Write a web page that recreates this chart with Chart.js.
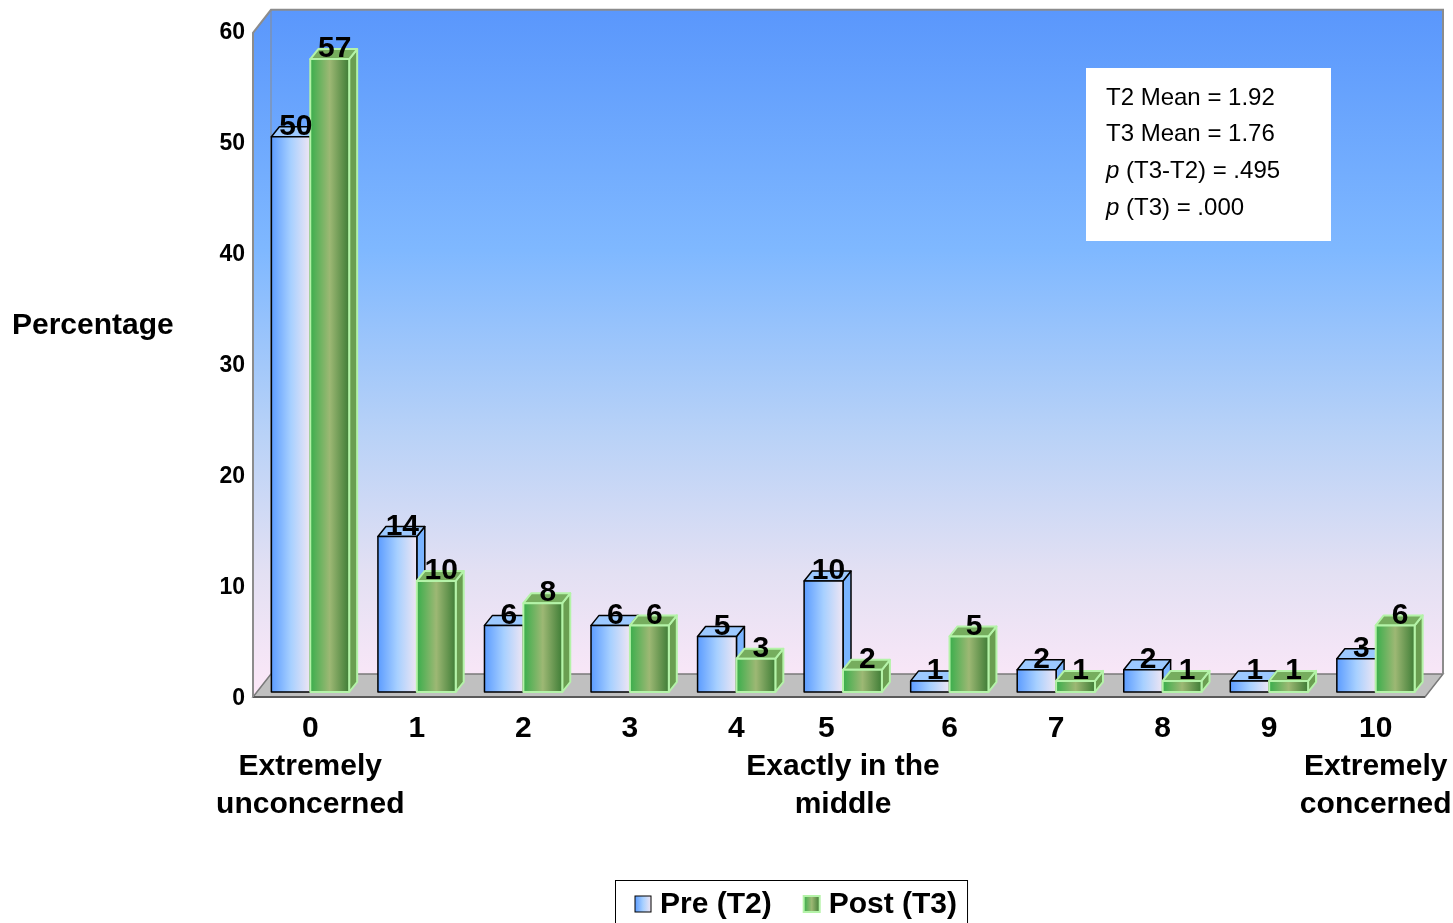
<!DOCTYPE html>
<html>
<head>
<meta charset="utf-8">
<script src="https://cdn.jsdelivr.net/npm/chart.js@4.4.1/dist/chart.umd.min.js"></script>
<style>
  html, body { margin: 0; padding: 0; background: #fff; }
  #wrap { width: 1453px; height: 923px; position: relative; }
</style>
</head>
<body>
<div id="wrap"><canvas id="myChart"></canvas></div>
<script>
// Category tick labels (score 0-10 with anchor descriptions)
const labels = [
    ['0', 'Extremely', 'unconcerned'], ['1'], ['2'], ['3'], ['4'],
    ['5    ', 'Exactly in the', 'middle'], ['6'], ['7'], ['8'], ['9'],
    ['10', 'Extremely', 'concerned']
];

// Percentages per score
const preT2 = [50, 14, 6, 6, 5, 10, 1, 2, 2, 1, 3];
const postT3 = [57, 10, 8, 6, 3, 2, 5, 1, 1, 1, 6];

const seriesNames = ['Pre (T2)', 'Post (T3)'];
const yTicks = [0, 10, 20, 30, 40, 50, 60];

// Stats box text: [italic prefix, rest]
const statLines = [
    ['', 'T2 Mean = 1.92'],
    ['', 'T3 Mean = 1.76'],
    ['p', ' (T3-T2) = .495'],
    ['p', ' (T3) = .000']
];

const FONT = "'Liberation Sans', Arial, sans-serif";
const wallDepth = { dx: 18, dy: -23 };
const barDepth = { dx: 8, dy: -10 };

const barStyles = [
    { front: ['#5c9cff', '#a7d0ff', '#efe5f3'], top: '#9cc9ff', side: '#7ab4ff', edge: '#000000', edgeWidth: 1.5 },
    { front: ['#3aae4c', '#9db874', '#3f7d36'], top: '#76ad5e', side: '#6a9e51', edge: '#b4f3a8', edgeWidth: 2 }
];

function poly(ctx, pts) {
    ctx.beginPath();
    ctx.moveTo(pts[0][0], pts[0][1]);
    for (let i = 1; i < pts.length; i++) ctx.lineTo(pts[i][0], pts[i][1]);
    ctx.closePath();
}

function frontGradient(ctx, x0, x1, stops) {
    const g = ctx.createLinearGradient(x0, 0, x1, 0);
    g.addColorStop(0, stops[0]);
    g.addColorStop(0.5, stops[1]);
    g.addColorStop(1, stops[2]);
    return g;
}

function drawBar(ctx, x0, x1, top, base, st) {
    const dx = barDepth.dx, dy = barDepth.dy;
    ctx.lineWidth = st.edgeWidth;
    ctx.strokeStyle = st.edge;
    ctx.lineJoin = 'round';
    // right side
    poly(ctx, [[x1, top], [x1 + dx, top + dy], [x1 + dx, base + dy], [x1, base]]);
    ctx.fillStyle = st.side;
    ctx.fill();
    ctx.stroke();
    // top
    poly(ctx, [[x0, top], [x1, top], [x1 + dx, top + dy], [x0 + dx, top + dy]]);
    ctx.fillStyle = st.top;
    ctx.fill();
    ctx.stroke();
    // front
    ctx.fillStyle = frontGradient(ctx, x0, x1, st.front);
    ctx.fillRect(x0, top, x1 - x0, base - top);
    ctx.strokeRect(x0, top, x1 - x0, base - top);
}

// Walls, floor, 3D bars, value labels, stats box and legend
const scenePlugin = {
    id: 'scene',
    beforeDraw(chart) {
        const { ctx, chartArea: a } = chart;
        ctx.save();
        ctx.fillStyle = '#ffffff';
        ctx.fillRect(0, 0, chart.width, chart.height);

        const fl = a.left - 4, fr = a.right - 4, ft = a.top + 7, fb = a.bottom + 5;
        const bl = fl + wallDepth.dx, br = fr + wallDepth.dx;
        const bt = ft + wallDepth.dy, bb = fb + wallDepth.dy;

        const g = ctx.createLinearGradient(0, bt, 0, fb);
        g.addColorStop(0, '#5a97fc');
        g.addColorStop(0.35, '#7fb8ff');
        g.addColorStop(0.62, '#b9d2f7');
        g.addColorStop(0.82, '#e3e0f3');
        g.addColorStop(1, '#fde8f8');

        ctx.fillStyle = g;
        ctx.fillRect(bl, bt, br - bl, bb - bt);
        poly(ctx, [[fl, ft], [bl, bt], [bl, bb], [fl, fb]]);
        ctx.fill();

        // floor
        poly(ctx, [[fl, fb], [bl, bb], [br, bb], [fr, fb]]);
        ctx.fillStyle = '#c0c0c0';
        ctx.fill();
        ctx.strokeStyle = '#7a7a7a';
        ctx.lineWidth = 1.5;
        ctx.stroke();
        ctx.strokeStyle = '#5a5a5a';
        ctx.lineWidth = 2;
        ctx.beginPath();
        ctx.moveTo(fl, fb); ctx.lineTo(fr, fb);
        ctx.stroke();

        // wall edges
        ctx.strokeStyle = '#8c8c8c';
        ctx.lineWidth = 2;
        ctx.beginPath();
        ctx.moveTo(fl, fb); ctx.lineTo(fl, ft); ctx.lineTo(bl, bt);
        ctx.lineTo(br, bt); ctx.lineTo(br, bb);
        ctx.stroke();
        ctx.lineWidth = 1;
        ctx.beginPath();
        ctx.moveTo(bl, bt); ctx.lineTo(bl, bb);
        ctx.stroke();
        ctx.restore();
    },
    beforeDatasetsDraw(chart) {
        const ctx = chart.ctx;
        ctx.save();
        const metas = chart.data.datasets.map((d, i) => chart.getDatasetMeta(i));
        chart.data.labels.forEach((_, i) => {
            metas.forEach((meta, d) => {
                const bar = meta.data[i];
                const { x, y, base, width } = bar.getProps(['x', 'y', 'base', 'width'], true);
                drawBar(ctx, x - width / 2, x + width / 2, y, base, barStyles[d]);
            });
        });
        // value labels
        ctx.fillStyle = '#000';
        ctx.font = 'bold 30px ' + FONT;
        ctx.textAlign = 'center';
        ctx.textBaseline = 'middle';
        metas.forEach((meta, d) => {
            meta.data.forEach((bar, i) => {
                const v = chart.data.datasets[d].data[i];
                ctx.fillText(String(v), bar.x + 5, bar.y - 10);
            });
        });
        ctx.restore();
        return false;
    },
    afterDraw(chart) {
        const ctx = chart.ctx;
        ctx.save();

        // y axis title
        ctx.fillStyle = '#000';
        ctx.font = 'bold 30px ' + FONT;
        ctx.textAlign = 'left';
        ctx.textBaseline = 'middle';
        ctx.fillText('Percentage', 12, 326);

        // stats box
        ctx.fillStyle = '#fff';
        ctx.fillRect(1086, 68, 245, 173);
        ctx.fillStyle = '#000';
        statLines.forEach((ln, k) => {
            const y = 98 + k * 36.7;
            let x = 1106;
            if (ln[0]) {
                ctx.font = 'italic 24px ' + FONT;
                ctx.fillText(ln[0], x, y);
                x += ctx.measureText(ln[0]).width;
            }
            ctx.font = '24px ' + FONT;
            ctx.fillText(ln[1], x, y);
        });

        // legend
        ctx.font = 'bold 30px ' + FONT;
        const ly = 904;
        let lx = 635;
        const boxLeft = 615;
        seriesNames.forEach((name, d) => {
            const st = barStyles[d];
            ctx.fillStyle = frontGradient(ctx, lx, lx + 16, st.front);
            ctx.fillRect(lx, ly - 8, 16, 16);
            ctx.strokeStyle = st.edge;
            ctx.lineWidth = d === 0 ? 1 : 2;
            ctx.strokeRect(lx, ly - 8, 16, 16);
            ctx.fillStyle = '#000';
            ctx.fillText(name, lx + 25, ly + 1);
            lx += 25 + ctx.measureText(name).width + (d === 0 ? 32 : 0);
        });
        ctx.strokeStyle = '#000';
        ctx.lineWidth = 1;
        ctx.strokeRect(boxLeft + 0.5, 880.5, lx + 10 - boxLeft, 60);
        ctx.restore();
    }
};

Chart.defaults.font.family = FONT;
Chart.defaults.color = '#000';

const data = {
    labels: labels,
    datasets: [
        { label: seriesNames[0], data: preT2, backgroundColor: '#7ab4ff' },
        { label: seriesNames[1], data: postT3, backgroundColor: '#6a9e51' }
    ]
};

const config = {
    type: 'bar',
    data: data,
    options: {
        responsive: true,
        maintainAspectRatio: false,
        animation: false,
        layout: { padding: { top: 23, right: 24, left: 0, bottom: 0 } },
        datasets: { bar: { categoryPercentage: 0.73, barPercentage: 1 } },
        plugins: {
            legend: { display: false },
            tooltip: { enabled: false }
        },
        scales: {
            x: {
                grid: { display: false, drawTicks: false },
                border: { display: false },
                ticks: {
                    autoSkip: false,
                    maxRotation: 0,
                    padding: 18,
                    font: { size: 30, weight: 'bold', lineHeight: '38px' }
                },
                afterFit: (s) => {
                    s.height = 231;
                    s.paddingLeft = 0;
                    s.paddingRight = 0;
                }
            },
            y: {
                min: 0,
                max: 60,
                grid: { display: false, drawTicks: false },
                border: { display: false },
                afterBuildTicks: (s) => { s.ticks = yTicks.map(v => ({ value: v })); },
                ticks: {
                    padding: 12,
                    labelOffset: 7,
                    font: { size: 23, weight: 'bold' }
                },
                afterFit: (s) => { s.width = 257; }
            }
        }
    },
    plugins: [scenePlugin]
};

const ctx = document.getElementById('myChart').getContext('2d');
new Chart(ctx, config);
</script>
</body>
</html>
